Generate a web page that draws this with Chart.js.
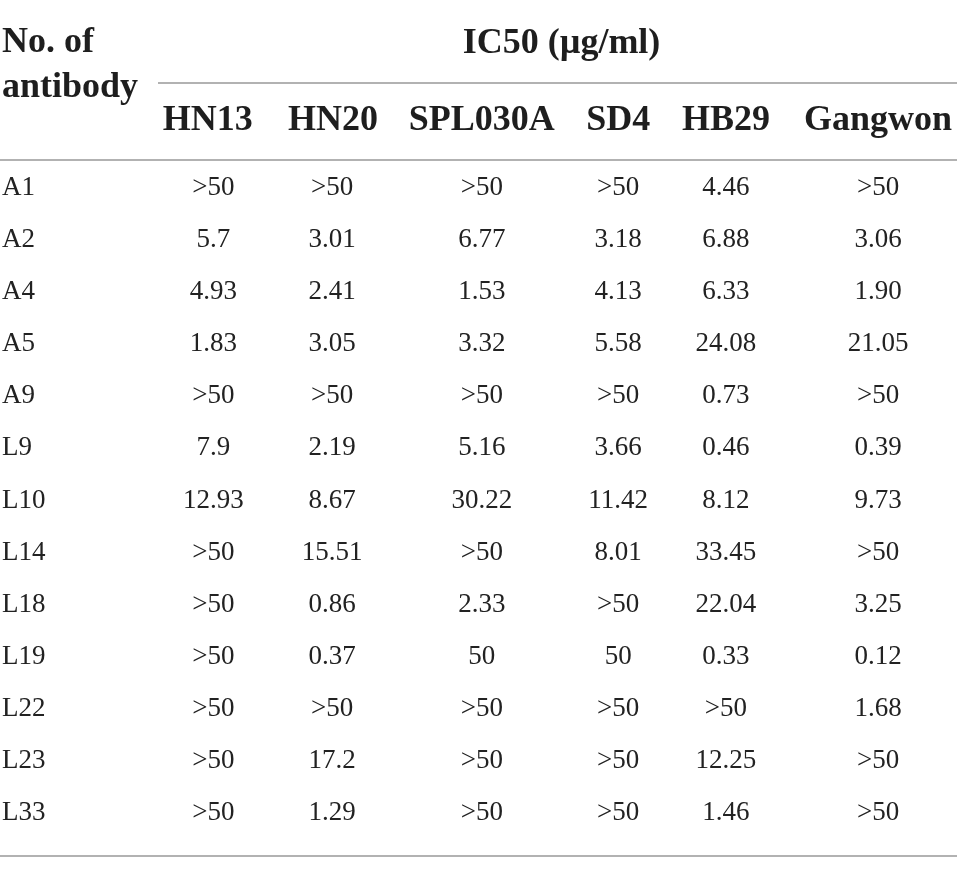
<!DOCTYPE html>
<html lang="en">
<head>
    <meta charset="UTF-8">
    <title>IC50 of antibodies</title>
    <style>
        * { margin: 0; padding: 0; box-sizing: border-box; }
        body { background: #fff; }
        .wrap { width: 957px; height: 873px; position: relative; }
    </style>
    <script src="https://cdn.jsdelivr.net/npm/chart.js"></script>
</head>
<body>
    <div class="wrap"><canvas id="ic50"></canvas></div>

    <script>
        // Table content
        const antibodies = ['A1', 'A2', 'A4', 'A5', 'A9', 'L9', 'L10', 'L14', 'L18', 'L19', 'L22', 'L23', 'L33'];
        const strains = ['HN13', 'HN20', 'SPL030A', 'SD4', 'HB29', 'Gangwon'];
        const hn13    = ['>50', '5.7', '4.93', '1.83', '>50', '7.9', '12.93', '>50', '>50', '>50', '>50', '>50', '>50'];
        const hn20    = ['>50', '3.01', '2.41', '3.05', '>50', '2.19', '8.67', '15.51', '0.86', '0.37', '>50', '17.2', '1.29'];
        const spl030a = ['>50', '6.77', '1.53', '3.32', '>50', '5.16', '30.22', '>50', '2.33', '50', '>50', '>50', '>50'];
        const sd4     = ['>50', '3.18', '4.13', '5.58', '>50', '3.66', '11.42', '8.01', '>50', '50', '>50', '>50', '>50'];
        const hb29    = ['4.46', '6.88', '6.33', '24.08', '0.73', '0.46', '8.12', '33.45', '22.04', '0.33', '>50', '12.25', '1.46'];
        const gangwon = ['>50', '3.06', '1.90', '21.05', '>50', '0.39', '9.73', '>50', '3.25', '0.12', '1.68', '>50', '>50'];
        const columns = [hn13, hn20, spl030a, sd4, hb29, gangwon];
        const rowHeader = ['No. of', 'antibody'];
        const groupHeader = 'IC50 (\u00b5g/ml)';

        // Layout: column centres as % of table width (not data)
        const colPct = [22.3, 34.7, 50.35, 64.6, 75.85, 91.75];
        const headPct = [21.7, 34.8, 50.35, 64.6, 75.85, 91.75];
        const serif = "'Liberation Serif', 'DejaVu Serif', serif";

        const datasets = columns.map((col, i) => ({
            label: strains[i],
            data: col.map((v, r) => ({ x: colPct[i], y: antibodies[r], text: v })),
            pointRadius: 0,
            pointHoverRadius: 0
        }));

        const tablePlugin = {
            id: 'tableText',
            afterDatasetsDraw(chart) {
                const { ctx, chartArea, scales } = chart;
                const x = scales.x, y = scales.y;
                ctx.save();

                // rules
                ctx.strokeStyle = '#999';
                ctx.lineWidth = 1.5;
                const rule = (x0, x1, yy) => {
                    ctx.beginPath();
                    ctx.moveTo(x0, yy);
                    ctx.lineTo(x1, yy);
                    ctx.stroke();
                };
                const groupLeft = 158;
                rule(groupLeft, chartArea.right, 83);
                rule(chartArea.left, chartArea.right, chartArea.top);
                rule(chartArea.left, chartArea.right, chartArea.bottom + 19);

                // header text
                ctx.fillStyle = '#1e1e1e';
                ctx.font = 'bold 36px ' + serif;
                ctx.textBaseline = 'alphabetic';
                ctx.textAlign = 'left';
                ctx.fillText(rowHeader[0], chartArea.left + 2, 52);
                ctx.fillText(rowHeader[1], chartArea.left + 2, 97);
                ctx.textAlign = 'center';
                ctx.fillText(groupHeader, (groupLeft + chartArea.right) / 2 + 4, 53);
                strains.forEach((s, i) => {
                    ctx.fillText(s, x.getPixelForValue(headPct[i]), 130);
                });

                // body
                ctx.fillStyle = '#222';
                ctx.font = '27px ' + serif;
                ctx.textAlign = 'left';
                antibodies.forEach((a, r) => {
                    ctx.fillText(a, chartArea.left + 2, y.getPixelForValue(r) + 9);
                });
                ctx.textAlign = 'center';
                chart.data.datasets.forEach((ds, i) => {
                    chart.getDatasetMeta(i).data.forEach((pt, r) => {
                        ctx.fillText(ds.data[r].text, pt.x, pt.y + 9);
                    });
                });
                ctx.restore();
            }
        };

        new Chart(document.getElementById('ic50'), {
            type: 'scatter',
            data: { datasets },
            options: {
                responsive: true,
                maintainAspectRatio: false,
                animation: false,
                events: [],
                layout: { padding: { top: 160, bottom: 36, left: 0, right: 0 } },
                plugins: { legend: { display: false }, tooltip: { enabled: false } },
                scales: {
                    x: { type: 'linear', min: 0, max: 100, display: false },
                    y: { type: 'category', labels: antibodies, offset: true, display: false }
                }
            },
            plugins: [tablePlugin]
        });
    </script>
</body>
</html>
